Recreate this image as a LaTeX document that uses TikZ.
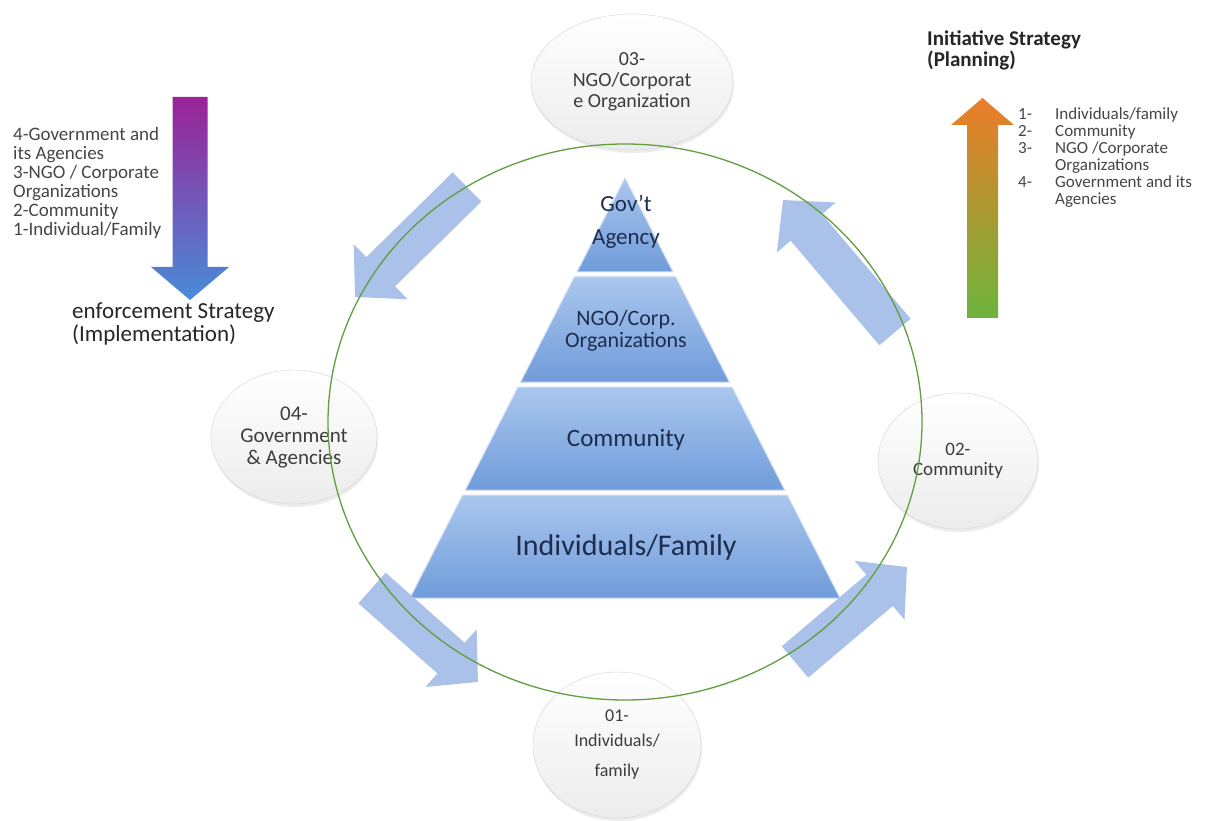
\documentclass[tikz,border=0pt]{standalone}
\usepackage{fontspec}
\setmainfont{Carlito}
\usepackage{tikz}
\usetikzlibrary{shapes.geometric,arrows.meta,shadows}

\definecolor{stageedge}{RGB}{212,212,212}
\definecolor{stageshade}{RGB}{236,236,236}
\definecolor{stagetext}{RGB}{60,60,60}
\definecolor{tiertop}{RGB}{170,198,238}
\definecolor{tierbot}{RGB}{112,156,218}
\definecolor{tiertext}{RGB}{30,45,78}
\definecolor{ringgreen}{RGB}{96,158,64}
\definecolor{roundarrow}{RGB}{170,193,233}
\definecolor{downtop}{RGB}{156,34,152}
\definecolor{downbot}{RGB}{72,140,216}
\definecolor{uptop}{RGB}{236,124,40}
\definecolor{upbot}{RGB}{108,180,60}
\definecolor{listgray}{RGB}{70,70,70}

\tikzset{stage/.style={ellipse,draw=stageedge,top color=white,bottom color=stageshade,
		align=center,text=stagetext,inner sep=0pt,
		drop shadow={opacity=0.15,shadow xshift=1pt,shadow yshift=-3pt}},
	tier/.style={top color=tiertop,bottom color=tierbot,draw=tiertop!50!white,line width=1pt},
	tierlabel/.style={text=tiertext,align=center,inner sep=0pt},
	roundarr/.style={draw=roundarrow,line width=41pt,-{Triangle[width=75pt,length=36pt]}},
	ring/.style={draw=ringgreen,line width=1.3pt},
	sidetext/.style={text=listgray,align=left,inner sep=0pt}}

\begin{document}
\begin{tikzpicture}[x=1pt,y=-1pt]
	\fill[white] (0,0) rectangle (1219,821);
	\useasboundingbox (0,0) rectangle (1219,821);
	%
	\node[stage,minimum width=202pt,minimum height=136pt,font=\fontsize{20}{21}\selectfont] (S3) at (632,82) {03-\\NGO/Corporat\\e Organization};
	\node[stage,minimum width=166pt,minimum height=134pt,font=\fontsize{21}{22}\selectfont] (S4) at (294,437) {04-\\Government\\\& Agencies};
	\node[stage,minimum width=160pt,minimum height=136pt,font=\fontsize{19}{20}\selectfont] (S2) at (958,461) {02-\\Community};
	\node[stage,minimum width=168pt,minimum height=146pt,font=\fontsize{18}{25}\selectfont] (S1) at (617,745) {01-\\Individuals/\\[5pt]family};
	%
	\fill[tier] (625,178) -- (673,272) -- (577,272) -- cycle;
	\fill[tier] (574.3,277) -- (675.7,277) -- (729.4,382) -- (520.6,382) -- cycle;
	\fill[tier] (518,387) -- (732,387) -- (784.7,490) -- (465.3,490) -- cycle;
	\fill[tier] (462.7,495) -- (787.3,495) -- (840,598) -- (410,598) -- cycle;
	\node[tierlabel,font=\fontsize{23}{25}\selectfont] (P4) at (626,222) {Gov't\\[8pt]Agency};
	\node[tierlabel,font=\fontsize{22}{22}\selectfont] (P3) at (626,331) {NGO/Corp.\\Organizations};
	\node[tierlabel,font=\fontsize{25}{25}\selectfont] (P2) at (626,440) {Community};
	\node[tierlabel,font=\fontsize{30}{30}\selectfont] (P1) at (626,547) {Individuals/Family};
	%
	\coordinate (A1) at (467,187);
	\coordinate (A1') at (355,297);
	\coordinate (A2) at (895,332);
	\coordinate (A2') at (783,200);
	\coordinate (A3) at (372,588);
	\coordinate (A3') at (478,682);
	\coordinate (A4) at (795,662);
	\coordinate (A4') at (907,567);
	\draw[roundarr] (A1) -- (A1');
	\draw[roundarr] (A2) -- (A2');
	\draw[roundarr] (A3) -- (A3');
	\draw[roundarr] (A4) -- (A4');
	%
	\coordinate (R) at (625,422);
	\draw[ring] (R) ellipse [x radius=297pt,y radius=278pt];
	%
	\shade[top color=downtop,bottom color=downbot] (172.5,97) -- (207.5,97) -- (207.5,267) -- (229,267)
		-- (190,300) -- (151,267) -- (172.5,267) -- cycle;
	\node[sidetext,anchor=north west,font=\fontsize{19}{19}\selectfont] (L) at (13,127)
		{4-Government and\\its Agencies\\3-NGO / Corporate\\Organizations\\2-Community\\1-Individual/Family};
	\node[sidetext,anchor=north west,text=black!85,font=\fontsize{23}{23}\selectfont] (LT) at (72,303)
		{enforcement Strategy\\(Implementation)};
	%
	\shade[top color=uptop,bottom color=upbot] (967,318) -- (998,318) -- (998,125) -- (1014,125)
		-- (982.5,98) -- (951,125) -- (967,125) -- cycle;
	\node[sidetext,anchor=north west,text=black!85,font=\bfseries\fontsize{21}{21}\selectfont] (RT) at (927,31)
		{Initiative Strategy\\(Planning)};
	\node[sidetext,anchor=north west,font=\fontsize{17}{17}\selectfont] (RL) at (1018,107)
		{\makebox[37pt][l]{1-}Individuals/family\\\makebox[37pt][l]{2-}Community\\
		\makebox[37pt][l]{3-}NGO /Corporate\\\hspace*{37pt}Organizations\\
		\makebox[37pt][l]{4-}Government and its\\\hspace*{37pt}Agencies};
\end{tikzpicture}
\end{document}
